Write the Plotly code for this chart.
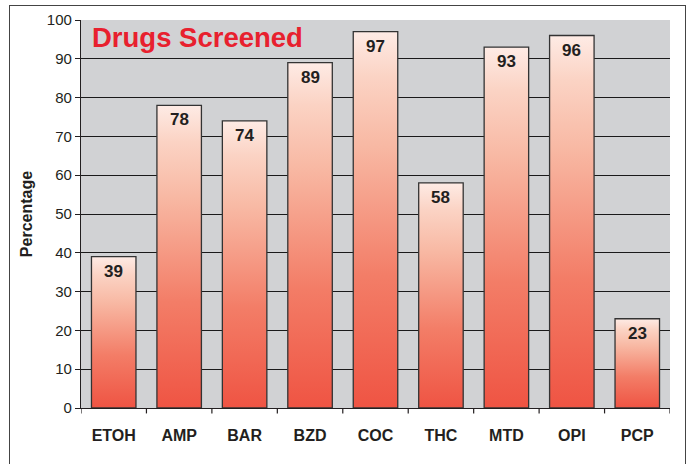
import plotly.graph_objects as go

categories = ["ETOH", "AMP", "BAR", "BZD", "COC", "THC", "MTD", "OPI", "PCP"]
values = [39, 78, 74, 89, 97, 58, 93, 96, 23]
y_ticks = [0, 10, 20, 30, 40, 50, 60, 70, 80, 90, 100]

BAR_HALF = 0.34
grad = [[0.0, "#ef5443"], [0.35, "#f37d67"], [0.7, "#f8b9a4"], [0.88, "#fbd3c4"], [1.0, "#feebe5"]]
FONT = "Liberation Sans, Arial, sans-serif"

fig = go.Figure()
for i, v in enumerate(values):
    fig.add_trace(go.Scatter(
        x=[i - BAR_HALF, i - BAR_HALF, i + BAR_HALF, i + BAR_HALF, i - BAR_HALF],
        y=[0, v, v, 0, 0],
        mode="lines",
        fill="toself",
        fillgradient=dict(type="vertical", colorscale=grad, start=0, stop=v),
        line=dict(color="#333333", width=1.3),
        hoverinfo="skip",
        showlegend=False,
    ))

value_labels = [dict(
    x=i, y=v, xref="x", yref="y", text="<b>%d</b>" % v, showarrow=False,
    yanchor="top", yshift=-3, font=dict(family=FONT, size=17, color="#231f20"),
) for i, v in enumerate(values)]

fig.update_layout(
    width=692, height=464,
    margin=dict(l=81, r=22, t=20, b=56),
    paper_bgcolor="white",
    plot_bgcolor="#d1d2d4",
    font=dict(family=FONT, color="#231f20"),
    showlegend=False,
    xaxis=dict(
        range=[-0.5, len(categories) - 0.5],
        tickmode="array",
        tickvals=list(range(len(categories))),
        ticktext=["<b>%s</b>" % c for c in categories],
        tickfont=dict(size=16, color="#231f20"),
        showgrid=False, zeroline=False,
        showline=True, linecolor="#231f20", linewidth=1.2,
        ticks="", ticklabelstandoff=13,
        automargin=False,
        fixedrange=True,
    ),
    yaxis=dict(
        range=[0, 100],
        tickmode="array",
        tickvals=y_ticks,
        tickfont=dict(size=15, color="#231f20"),
        showgrid=True, gridcolor="#1a1a1a", gridwidth=1.3,
        zeroline=False,
        showline=True, linecolor="#231f20", linewidth=1.2,
        ticks="outside", ticklen=5, tickcolor="#231f20", tickwidth=1.2,
        title=dict(text="<b>Percentage</b>", font=dict(size=16, color="#231f20"), standoff=10),
        automargin=False,
        fixedrange=True,
    ),
    annotations=[dict(
        text="<b>Drugs Screened</b>", xref="paper", yref="paper",
        x=0.016, y=1.0, xanchor="left", yanchor="top", showarrow=False,
        font=dict(size=27.5, color="#e8202e", family=FONT),
    )] + value_labels,
    shapes=[
        dict(type="line", xref="x", yref="paper", x0=k - 0.5, x1=k - 0.5, y0=0, y1=-0.014,
             line=dict(color="#231f20", width=1.2))
        for k in range(len(categories) + 1)
    ],
)

frame_js = (
    "document.body.style.margin='0';"
    "document.body.style.overflow='hidden';"
    "var f=document.createElement('div');"
    "f.style.cssText='position:absolute;left:9px;top:5px;width:677px;height:480px;"
    "border:1.5px solid #444;pointer-events:none;box-sizing:border-box;';"
    "document.body.appendChild(f);"
)

fig.write_html("out.html", config={"displayModeBar": False}, post_script=frame_js)
